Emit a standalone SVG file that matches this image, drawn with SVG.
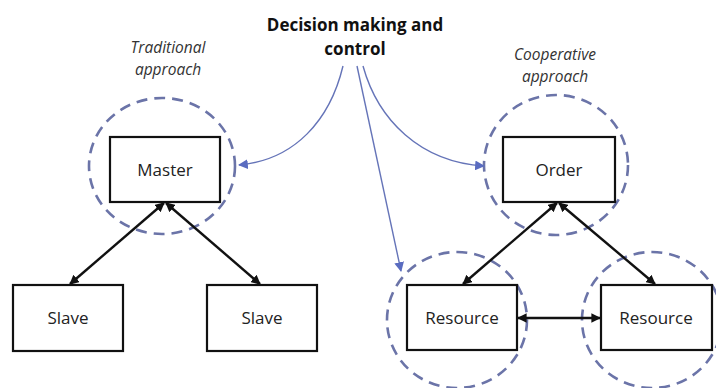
<svg xmlns="http://www.w3.org/2000/svg" width="716" height="388" viewBox="0 0 716 388">
<style>
.box{fill:#fff;stroke:#111;stroke-width:2.2}
.lbl{font-family:"Open Sans","Liberation Sans",sans-serif;font-size:17px;fill:#222;text-anchor:middle}
.it{font-family:"Open Sans","Liberation Sans",sans-serif;font-size:15.5px;font-style:italic;fill:#333;text-anchor:middle}
.ttl{font-family:"Open Sans","Liberation Sans",sans-serif;font-size:17px;font-weight:bold;fill:#111;text-anchor:middle}
.circ{fill:none;stroke:#6b74a8;stroke-width:2.6;stroke-dasharray:11 7}
.blk{fill:none;stroke:#111;stroke-width:2.4;marker-start:url(#ah);marker-end:url(#ah)}
.blu{fill:none;stroke:#6574b8;stroke-width:1.4;marker-end:url(#bh)}
</style>
<defs>
<marker id="ah" viewBox="0 0 10 10" refX="9" refY="5" markerWidth="4" markerHeight="4" orient="auto-start-reverse" markerUnits="strokeWidth"><path d="M0,0 L10,5 L0,10 z" fill="#111"/></marker>
<marker id="bh" viewBox="0 0 10 10" refX="9" refY="5" markerWidth="7" markerHeight="7" orient="auto" markerUnits="strokeWidth"><path d="M0,0 L10,5 L0,10 z" fill="#5a6cc0"/></marker>
</defs>
<rect width="716" height="388" fill="#fff"/>
<g id="title"><text class="ttl" x="355" y="31">Decision making and</text><text class="ttl" x="355" y="55">control</text></g>
<g id="traditional-label"><text class="it" x="168" y="53">Traditional</text><text class="it" x="168" y="75">approach</text></g>
<g id="cooperative-label"><text class="it" x="555" y="60">Cooperative</text><text class="it" x="555" y="82">approach</text></g>
<g id="circles">
<ellipse class="circ" cx="162" cy="166" rx="73" ry="68"/>
<ellipse class="circ" cx="556" cy="165" rx="72" ry="70"/>
<ellipse class="circ" cx="457" cy="320" rx="70" ry="68"/>
<ellipse class="circ" cx="652" cy="320" rx="70" ry="68"/>
</g>
<g id="connectors">
<path class="blu" d="M343,66 C330,120 295,160 239,165"/>
<path class="blu" d="M357,66 L401,271"/>
<path class="blu" d="M363,66 C378,120 420,162 484,166"/>
<line class="blk" x1="164" y1="203" x2="70" y2="284"/>
<line class="blk" x1="166" y1="203" x2="260" y2="284"/>
<line class="blk" x1="557" y1="203" x2="463" y2="284"/>
<line class="blk" x1="559" y1="203" x2="655" y2="284"/>
<line class="blk" x1="518" y1="318" x2="600" y2="318"/>
</g>
<g id="master"><rect class="box" x="110" y="137" width="110" height="65"/><text class="lbl" x="165" y="176">Master</text></g>
<g id="slave1"><rect class="box" x="13" y="285" width="110" height="66"/><text class="lbl" x="68" y="324">Slave</text></g>
<g id="slave2"><rect class="box" x="207" y="285" width="110" height="66"/><text class="lbl" x="262" y="324">Slave</text></g>
<g id="order"><rect class="box" x="503" y="137" width="112" height="65"/><text class="lbl" x="559" y="176">Order</text></g>
<g id="resource1"><rect class="box" x="407" y="285" width="110" height="65"/><text class="lbl" x="462" y="324">Resource</text></g>
<g id="resource2"><rect class="box" x="601" y="285" width="111" height="65"/><text class="lbl" x="656" y="324">Resource</text></g>
</svg>
